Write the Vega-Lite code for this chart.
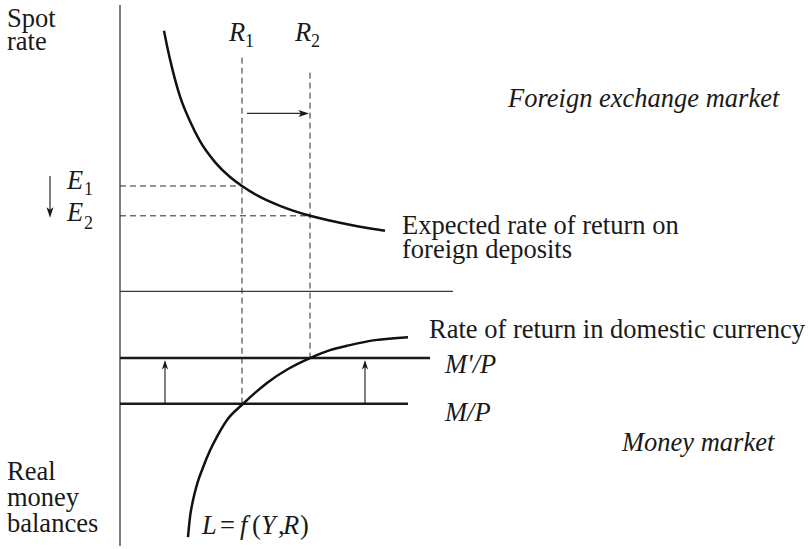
{
  "$schema": "https://vega.github.io/schema/vega-lite/v6.json",
  "width": 810,
  "height": 549,
  "padding": 0,
  "autosize": {"type": "fit", "contains": "padding"},
  "background": "white",
  "config": {"view": {"stroke": null}},
  "datasets": {
    "lines": [
      {"id": "axis", "ord": 0, "x": 120, "y": 5},
      {"id": "axis", "ord": 1, "x": 120, "y": 549},
      {"id": "mid", "ord": 0, "x": 120, "y": 293},
      {"id": "mid", "ord": 1, "x": 453, "y": 293},
      {"id": "mp2", "ord": 0, "x": 120, "y": 360},
      {"id": "mp2", "ord": 1, "x": 430, "y": 360},
      {"id": "mp", "ord": 0, "x": 120, "y": 406},
      {"id": "mp", "ord": 1, "x": 408, "y": 406},
      {"id": "r1", "ord": 0, "x": 242, "y": 58},
      {"id": "r1", "ord": 1, "x": 242, "y": 406},
      {"id": "r2", "ord": 0, "x": 310, "y": 73},
      {"id": "r2", "ord": 1, "x": 310, "y": 360},
      {"id": "e1", "ord": 0, "x": 120, "y": 187},
      {"id": "e1", "ord": 1, "x": 242, "y": 187},
      {"id": "e2", "ord": 0, "x": 120, "y": 217},
      {"id": "e2", "ord": 1, "x": 310, "y": 217},
      {"id": "aright", "ord": 0, "x": 247, "y": 114},
      {"id": "aright", "ord": 1, "x": 302, "y": 114},
      {"id": "adown", "ord": 0, "x": 50, "y": 177},
      {"id": "adown", "ord": 1, "x": 50, "y": 212},
      {"id": "aup1", "ord": 0, "x": 165, "y": 406},
      {"id": "aup1", "ord": 1, "x": 165, "y": 369},
      {"id": "aup2", "ord": 0, "x": 365, "y": 406},
      {"id": "aup2", "ord": 1, "x": 365, "y": 369}
    ],
    "curves": [
      {"id": "upper", "x": 164, "y": 31},
      {"id": "upper", "x": 167, "y": 46},
      {"id": "upper", "x": 172, "y": 68},
      {"id": "upper", "x": 180, "y": 97},
      {"id": "upper", "x": 190, "y": 122},
      {"id": "upper", "x": 200, "y": 142},
      {"id": "upper", "x": 215, "y": 163},
      {"id": "upper", "x": 230, "y": 178},
      {"id": "upper", "x": 242, "y": 187},
      {"id": "upper", "x": 260, "y": 198},
      {"id": "upper", "x": 280, "y": 207},
      {"id": "upper", "x": 310, "y": 217},
      {"id": "upper", "x": 340, "y": 224},
      {"id": "upper", "x": 360, "y": 228},
      {"id": "upper", "x": 385, "y": 232},
      {"id": "lower", "x": 188, "y": 540},
      {"id": "lower", "x": 190, "y": 520},
      {"id": "lower", "x": 193, "y": 503},
      {"id": "lower", "x": 197, "y": 487},
      {"id": "lower", "x": 203, "y": 470},
      {"id": "lower", "x": 210, "y": 453},
      {"id": "lower", "x": 217, "y": 439},
      {"id": "lower", "x": 228, "y": 421},
      {"id": "lower", "x": 242, "y": 407},
      {"id": "lower", "x": 255, "y": 395},
      {"id": "lower", "x": 267, "y": 385},
      {"id": "lower", "x": 288, "y": 371},
      {"id": "lower", "x": 310, "y": 360},
      {"id": "lower", "x": 330, "y": 352},
      {"id": "lower", "x": 350, "y": 347},
      {"id": "lower", "x": 375, "y": 342},
      {"id": "lower", "x": 408, "y": 339}
    ],
    "heads": [
      {"dir": "right", "x": 309, "y": 114},
      {"dir": "down", "x": 50, "y": 219},
      {"dir": "up", "x": 165, "y": 362},
      {"dir": "up", "x": 365, "y": 362}
    ],
    "roman": [
      {"text": "Spot", "x": 7, "y": 27},
      {"text": "rate", "x": 7, "y": 50},
      {"text": "Real", "x": 7, "y": 483},
      {"text": "money", "x": 7, "y": 509},
      {"text": "balances", "x": 7, "y": 535},
      {"text": "Expected rate of return on", "x": 402, "y": 235},
      {"text": "foreign deposits", "x": 402, "y": 259},
      {"text": "Rate of return in domestic currency", "x": 429, "y": 340},
      {"text": "=", "x": 220, "y": 537},
      {"text": "(", "x": 252, "y": 537},
      {"text": ",", "x": 278, "y": 537},
      {"text": ")", "x": 300, "y": 537}
    ],
    "italic": [
      {"text": "R", "x": 229, "y": 41},
      {"text": "R", "x": 295, "y": 41},
      {"text": "E", "x": 67, "y": 190},
      {"text": "E", "x": 67, "y": 222},
      {"text": "Foreign exchange market", "x": 508, "y": 108},
      {"text": "M'/P", "x": 445, "y": 375},
      {"text": "M/P", "x": 445, "y": 423},
      {"text": "Money market", "x": 622, "y": 453},
      {"text": "L", "x": 202, "y": 537},
      {"text": "f", "x": 240, "y": 537},
      {"text": "Y", "x": 261, "y": 537},
      {"text": "R", "x": 283, "y": 537}
    ],
    "subs": [
      {"text": "1", "x": 245, "y": 47},
      {"text": "2", "x": 311, "y": 47},
      {"text": "1", "x": 84, "y": 196},
      {"text": "2", "x": 84, "y": 230}
    ]
  },
  "encoding": {
    "x": {"field": "x", "type": "quantitative", "axis": null, "scale": {"domain": [0, 810], "nice": false, "zero": false}},
    "y": {"field": "y", "type": "quantitative", "axis": null, "scale": {"domain": [0, 549], "nice": false, "zero": false, "reverse": true}}
  },
  "layer": [
    {
      "data": {"name": "lines"},
      "transform": [{"filter": "datum.id === 'axis' || datum.id === 'mid'"}],
      "mark": {"type": "line", "stroke": "#3a3a3a", "strokeWidth": 1.3},
      "encoding": {"detail": {"field": "id"}, "order": {"field": "ord"}}
    },
    {
      "data": {"name": "lines"},
      "transform": [{"filter": "datum.id === 'mp' || datum.id === 'mp2'"}],
      "mark": {"type": "line", "stroke": "#1a1a1a", "strokeWidth": 2.4},
      "encoding": {"detail": {"field": "id"}, "order": {"field": "ord"}}
    },
    {
      "data": {"name": "lines"},
      "transform": [{"filter": "datum.id === 'r1' || datum.id === 'r2' || datum.id === 'e1' || datum.id === 'e2'"}],
      "mark": {"type": "line", "stroke": "#2a2a2a", "strokeWidth": 1, "strokeDash": [6, 4]},
      "encoding": {"detail": {"field": "id"}, "order": {"field": "ord"}}
    },
    {
      "data": {"name": "lines"},
      "transform": [{"filter": "datum.id === 'aright' || datum.id === 'adown' || datum.id === 'aup1' || datum.id === 'aup2'"}],
      "mark": {"type": "line", "stroke": "#2a2a2a", "strokeWidth": 1.2},
      "encoding": {"detail": {"field": "id"}, "order": {"field": "ord"}}
    },
    {
      "data": {"name": "curves"},
      "mark": {"type": "line", "stroke": "#111111", "strokeWidth": 2.5, "interpolate": "monotone"},
      "encoding": {"detail": {"field": "id"}}
    },
    {
      "data": {"name": "heads"},
      "transform": [{"filter": "datum.dir === 'right'"}],
      "mark": {"type": "point", "filled": true, "color": "#1a1a1a", "size": 450, "strokeWidth": 0, "opacity": 1, "shape": "M0,0 L-1,-0.33 L-0.75,0 L-1,0.33 Z"}
    },
    {
      "data": {"name": "heads"},
      "transform": [{"filter": "datum.dir === 'down'"}],
      "mark": {"type": "point", "filled": true, "color": "#1a1a1a", "size": 450, "strokeWidth": 0, "opacity": 1, "shape": "M0,0 L-0.33,-1 L0,-0.75 L0.33,-1 Z"}
    },
    {
      "data": {"name": "heads"},
      "transform": [{"filter": "datum.dir === 'up'"}],
      "mark": {"type": "point", "filled": true, "color": "#1a1a1a", "size": 350, "strokeWidth": 0, "opacity": 1, "shape": "M0,0 L-0.33,1 L0,0.75 L0.33,1 Z"}
    },
    {
      "data": {"name": "roman"},
      "mark": {"type": "text", "align": "left", "baseline": "alphabetic", "font": "Liberation Serif", "fontSize": 26.5, "color": "#1a1a1a"},
      "encoding": {"text": {"field": "text"}}
    },
    {
      "data": {"name": "italic"},
      "mark": {"type": "text", "align": "left", "baseline": "alphabetic", "font": "Liberation Serif", "fontStyle": "italic", "fontSize": 26.5, "color": "#1a1a1a"},
      "encoding": {"text": {"field": "text"}}
    },
    {
      "data": {"name": "subs"},
      "mark": {"type": "text", "align": "left", "baseline": "alphabetic", "font": "Liberation Serif", "fontSize": 18, "color": "#1a1a1a"},
      "encoding": {"text": {"field": "text"}}
    }
  ]
}
